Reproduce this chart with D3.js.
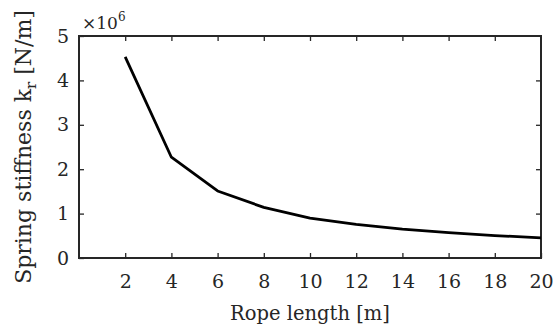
<!DOCTYPE html>
<html>
<head>
<meta charset="utf-8">
<script src="https://cdn.jsdelivr.net/npm/d3@7"></script>
<style>
  body { margin: 0; background: #fff; }
  svg { display: block; }
</style>
</head>
<body>
<svg id="chart" width="553" height="333"></svg>
<script>
// Data (stiffness in units of 10^6 N/m)
const ropeLength = [2, 4, 6, 8, 10, 12, 14, 16, 18, 20];
const stiffness = [4.53, 2.27, 1.51, 1.14, 0.90, 0.755, 0.65, 0.57, 0.505, 0.455];
const xTicks = [2, 4, 6, 8, 10, 12, 14, 16, 18, 20];
const yTicks = [0, 1, 2, 3, 4, 5];

const W = 553, H = 333;
const margin = { left: 79, right: 12, top: 36, bottom: 75 };
const FONT = "DejaVu Serif";
const svg = d3.select("#chart");
const x = d3.scaleLinear().domain([0, 20]).range([margin.left, W - margin.right]);
const y = d3.scaleLinear().domain([0, 5]).range([H - margin.bottom, margin.top]);

const axisColor = "#262626";
const tickFont = 19;

function styleAxis(g) {
  g.attr("font-family", FONT).attr("font-size", tickFont);
  g.select(".domain").remove();
  g.selectAll(".tick line").attr("stroke", axisColor).attr("stroke-width", 1.3);
  g.selectAll(".tick text").attr("fill", axisColor);
}

// bottom
svg.append("g").attr("transform", `translate(0,${y(0)})`)
  .call(d3.axisBottom(x).tickValues(xTicks).tickSize(-5).tickPadding(17).tickFormat(d3.format("d")))
  .call(styleAxis);
// top
svg.append("g").attr("transform", `translate(0,${y(5)})`)
  .call(d3.axisTop(x).tickValues(xTicks.slice(0, -1)).tickSize(-5).tickFormat(""))
  .call(styleAxis);
// left
svg.append("g").attr("transform", `translate(${x(0)},0)`)
  .call(d3.axisLeft(y).tickValues(yTicks).tickSize(-5).tickPadding(10).tickFormat(d3.format("d")))
  .call(styleAxis);
// right
svg.append("g").attr("transform", `translate(${x(20)},0)`)
  .call(d3.axisRight(y).tickValues(yTicks.slice(1, -1)).tickSize(-5).tickFormat(""))
  .call(styleAxis);

// box
svg.append("rect")
  .attr("x", x(0)).attr("y", y(5))
  .attr("width", x(20) - x(0)).attr("height", y(0) - y(5))
  .attr("fill", "none").attr("stroke", axisColor).attr("stroke-width", 2);

// line
const line = d3.line().x((d, i) => x(ropeLength[i])).y(d => y(d));
svg.append("path")
  .datum(stiffness)
  .attr("d", line)
  .attr("fill", "none")
  .attr("stroke", "#000")
  .attr("stroke-width", 2.8)
  .attr("stroke-linejoin", "round");

// exponent label
const exp = svg.append("text").attr("x", x(0) + 3).attr("y", 29).attr("font-size", 17)
  .attr("font-family", FONT).attr("fill", axisColor);
exp.append("tspan").text("×10");
exp.append("tspan").attr("font-size", 12).attr("dy", -8).text("6");

// x label
svg.append("text")
  .attr("x", (x(0) + x(20)) / 2).attr("y", 320)
  .attr("text-anchor", "middle").attr("font-size", 19.5).attr("font-family", FONT).attr("fill", axisColor)
  .text("Rope length [m]");

// y label
const yl = svg.append("text")
  .attr("transform", `translate(31,${(y(0) + y(5)) / 2}) rotate(-90)`)
  .attr("text-anchor", "middle").attr("font-size", 22).attr("font-family", FONT).attr("fill", axisColor);
yl.append("tspan").text("Spring stiffness k");
yl.append("tspan").attr("font-size", 15).attr("dy", 5).text("r");
yl.append("tspan").attr("dy", -5).text(" [N/m]");
</script>
</body>
</html>
